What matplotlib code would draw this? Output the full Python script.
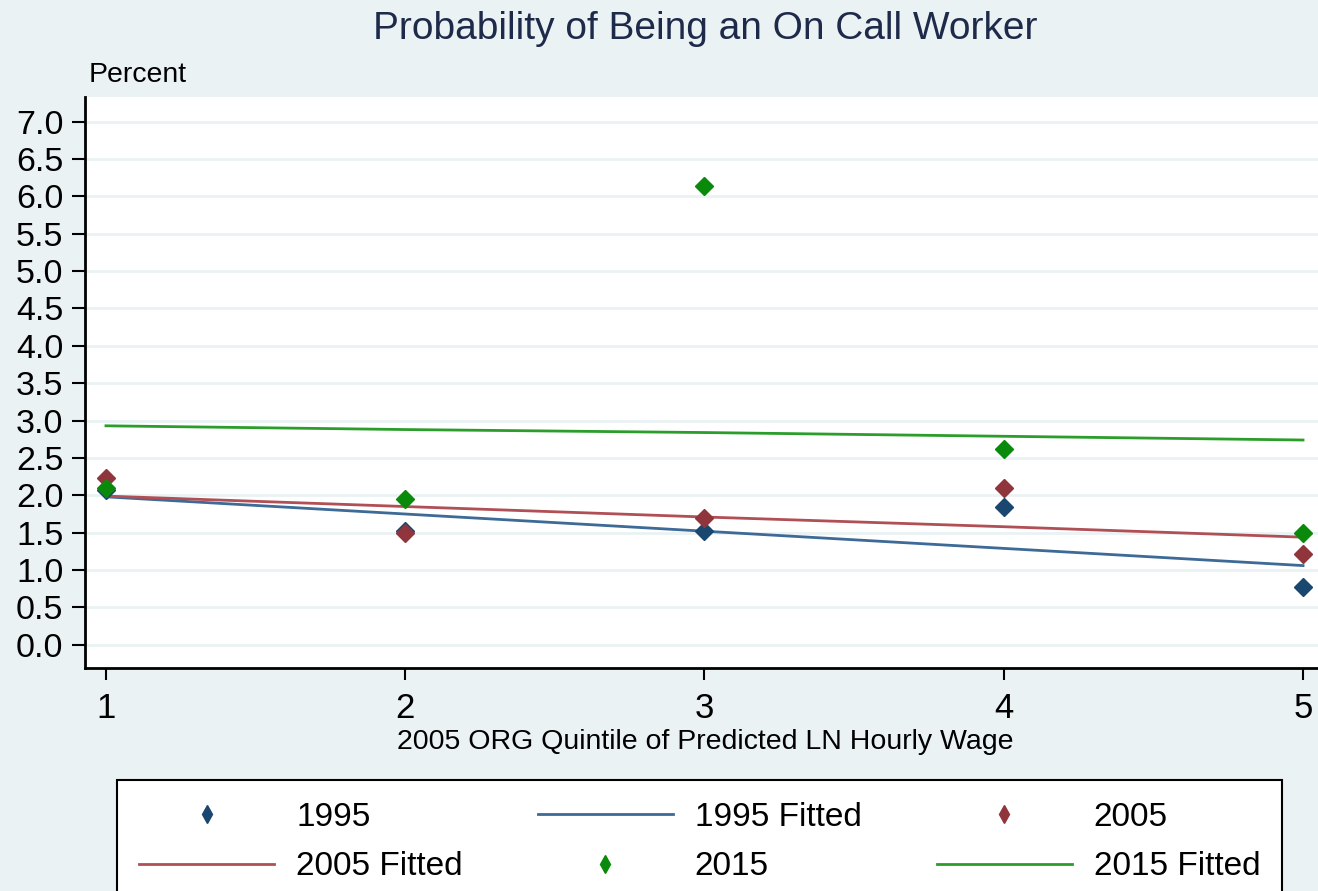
import numpy as np
import matplotlib.pyplot as plt
from matplotlib.lines import Line2D

plt.rcParams['font.family'] = ['Liberation Sans', 'DejaVu Sans']

quintiles = [1, 2, 3, 4, 5]

# mean probability by quintile (percent)
y1995 = [2.07, 1.52, 1.52, 1.85, 0.77]
y2005 = [2.23, 1.50, 1.69, 2.10, 1.21]
y2015 = [2.10, 1.95, 6.14, 2.62, 1.50]

# fitted values at each quintile
fit1995 = [1.98, 1.75, 1.52, 1.29, 1.06]
fit2005 = [1.99, 1.85, 1.71, 1.58, 1.44]
fit2015 = [2.93, 2.88, 2.84, 2.79, 2.74]

yticks = np.arange(0, 7.01, 0.5)

bg = '#eaf2f3'
c95, c05, c15 = '#1a476f', '#90353b', '#0a8a0a'
f95, f05, f15 = '#3d6a96', '#b04f55', '#2a9d2a'

fig = plt.figure(figsize=(13.18, 8.91), dpi=100, facecolor=bg)
ax = fig.add_axes([0.0645, 0.2503, 0.9355, 0.6409])
ax.set_facecolor('white')

for y in yticks:
    ax.axhline(y, color=bg, lw=2, zorder=0)

ax.plot(quintiles, fit1995, color=f95, lw=2, label='1995 Fitted', zorder=2)
ax.plot(quintiles, fit2005, color=f05, lw=2, label='2005 Fitted', zorder=2)
ax.plot(quintiles, fit2015, color=f15, lw=2, label='2015 Fitted', zorder=2)
ax.plot(quintiles, y1995, 'D', color=c95, ms=9, ls='none', label='1995', zorder=3)
ax.plot(quintiles, y2005, 'D', color=c05, ms=9, ls='none', label='2005', zorder=3)
ax.plot(quintiles, y2015, 'D', color=c15, ms=9, ls='none', label='2015', zorder=3)

ax.set_xlim(0.93, 5.05)
ax.set_ylim(-0.31, 7.33)
ax.set_xticks(quintiles)
ax.set_xticklabels([str(q) for q in quintiles], fontsize=25)
ax.set_yticks(yticks)
ax.set_yticklabels(['%.1f' % v for v in yticks], fontsize=24.5)
ax.tick_params(axis='y', length=9.5, width=1.5, pad=6)
ax.tick_params(axis='x', length=8.6, width=1.5, pad=9)

for s in ['top', 'right']:
    ax.spines[s].set_visible(False)
for s in ['left', 'bottom']:
    ax.spines[s].set_linewidth(2)

fig.text(0.535, 0.968, 'Probability of Being an On Call Worker', ha='center', va='center',
         fontsize=28, color='#1e2a4a')
fig.text(0.067, 0.916, 'Percent', ha='left', va='center', fontsize=20.5)
fig.text(0.535, 0.167, '2005 ORG Quintile of Predicted LN Hourly Wage', ha='center',
         va='center', fontsize=20.5)

h = {l.get_label(): l for l in ax.get_lines() if not l.get_label().startswith('_')}
labels = ['1995', '2005 Fitted', '1995 Fitted', '2015', '2005', '2015 Fitted']
hs = []
for name in labels:
    ln = h[name]
    if 'Fitted' in name:
        hs.append(Line2D([], [], color=ln.get_color(), lw=2))
    else:
        hs.append(Line2D([], [], color=ln.get_color(), marker='d', ms=9, ls='none'))
leg = fig.legend(hs, labels, ncol=3, loc='upper left', bbox_to_anchor=(0.0888, 0.1246),
                 fontsize=24, frameon=True, fancybox=False, edgecolor='black', framealpha=1,
                 handlelength=4.05, handletextpad=0.66, columnspacing=2.25,
                 borderpad=0.66, labelspacing=0.55, borderaxespad=0)
leg.get_frame().set_linewidth(1.5)

plt.savefig('out.png', dpi=100, facecolor=bg)
